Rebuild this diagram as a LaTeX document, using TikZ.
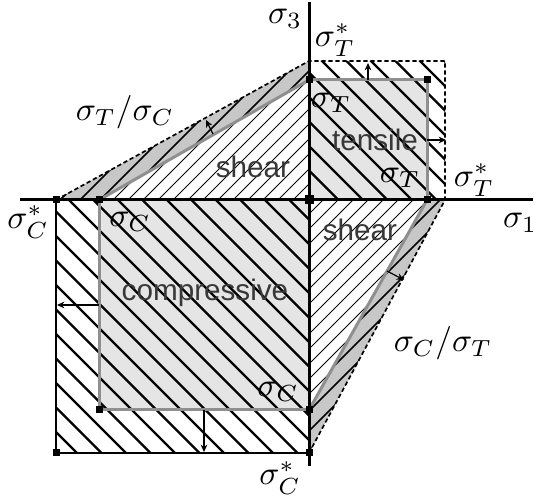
\documentclass[tikz,border=0pt]{standalone}
\usepackage{fontspec}
\newfontfamily\labfont{Liberation Sans}
\usetikzlibrary{arrows.meta}
\definecolor{lgray}{gray}{0.9}
\definecolor{bgray}{gray}{0.78}
\definecolor{ogray}{gray}{0.56}
\begin{document}
\begin{tikzpicture}[x=0.3pt,y=-0.3pt,
  hatchthick/.style={line width=0.7pt},
  hatchband/.style={line width=0.5pt},
  hatchthin/.style={line width=0.3pt},
  axisline/.style={line width=0.9pt},
  envl/.style={ogray,line width=0.9pt},
  dashenv/.style={line width=0.5pt,dash pattern=on 1.3pt off 0.8pt},
  outerline/.style={line width=0.45pt},
  arr/.style={line width=0.35pt,-{Stealth[length=2.2pt,width=2pt]}},
  sqmark/.style={fill=black,inner sep=0pt,minimum size=2.1pt},
  bigmark/.style={fill=black,inner sep=0pt,minimum size=2.7pt},
  mlab/.style={inner sep=0pt,font=\fontsize{10}{12}\selectfont},
  slab/.style={inner sep=0pt,text=black!78,font=\labfont\fontsize{8.9}{10}\selectfont}]
\useasboundingbox (0,0) rectangle (537,497);
% key points
\coordinate (O) at (309,200);
\coordinate (Tt) at (309,80);
\coordinate (Tc) at (427,80);
\coordinate (Tr) at (427,200);
\coordinate (Ts3) at (309,61);
\coordinate (Tsc) at (445,61);
\coordinate (Ts1) at (445,200);
\coordinate (Cl) at (99,200);
\coordinate (Cc) at (99,410);
\coordinate (Cb) at (309,410);
\coordinate (Csl) at (56,200);
\coordinate (Csc) at (56,453);
\coordinate (Csb) at (309,453);
\coordinate (Xl) at (20,200);
\coordinate (Xr) at (533,200);
\coordinate (Yt) at (309,2);
\coordinate (Yb) at (309,466);
% gray squares
\fill[lgray] (O) rectangle (Tc);
\fill[lgray] (Cl) rectangle (Cb);
% thick hatch (tensile / compressive)
\begin{scope}
  \clip (O) rectangle (Tsc) (Csl) rectangle (Csb);
  \foreach \k in {-25,...,30} \draw[hatchthick] ({-33+\k*24.5},0) -- ++(600,600);
\end{scope}
% thin hatch (shear)
\begin{scope}
  \clip (Cl) -- (O) -- (Tt) -- cycle (O) -- (Tr) -- (Cb) -- cycle;
  \foreach \k in {-5,...,75} \draw[hatchthin] ({403+\k*15-600},0) -- ++(-600,600);
\end{scope}
% bands
\fill[bgray] (Csl) -- (Ts3) -- (Tt) -- (Cl) -- cycle;
\fill[bgray] (Ts1) -- (Csb) -- (Cb) -- (Tr) -- cycle;
\begin{scope}
  \clip (Csl) -- (Ts3) -- (Tt) -- (Cl) -- cycle (Ts1) -- (Csb) -- (Cb) -- (Tr) -- cycle;
  \foreach \k in {0,...,60} \draw[hatchband] ({\k*20},0) -- ++(-600,600);
\end{scope}
% envelopes
\draw[envl] (Cl) -- (Tt);
\draw[envl] (Tr) -- (Cb);
\draw[envl] (Tt) -- (Tc) -- (Tr);
\draw[envl] (Cl) -- (Cc) -- (Cb);
\draw[dashenv] (Csl) -- (Ts3) -- (Tsc) -- (Ts1) -- (Csb);
\draw[outerline] (Csl) -- (Csc) -- (Csb);
% axes
\draw[axisline] (Xl) -- (Xr);
\draw[axisline] (Yt) -- (Yb);
% arrows
\coordinate (a1s) at (368,80);  \coordinate (a1e) at (368,63);
\coordinate (a2s) at (427,140); \coordinate (a2e) at (446,140);
\coordinate (a3s) at (99,305);  \coordinate (a3e) at (57,305);
\coordinate (a4s) at (204,410); \coordinate (a4e) at (204,452);
\coordinate (a5s) at (213,134); \coordinate (a5e) at (206,120);
\coordinate (a6s) at (387,271); \coordinate (a6e) at (404,280);
\draw[arr] (a1s) -- (a1e);
\draw[arr] (a2s) -- (a2e);
\draw[arr] (a3s) -- (a3e);
\draw[arr] (a4s) -- (a4e);
\draw[arr] (a5s) -- (a5e);
\draw[arr] (a6s) -- (a6e);
% markers
\node[bigmark] (mO) at (O) {};
\node[sqmark] (m1) at (Tt) {};
\node[sqmark] (m2) at (Tc) {};
\node[sqmark] (m3) at (Tr) {};
\node[sqmark] (m4) at (Cl) {};
\node[sqmark] (m5) at (Cc) {};
\node[sqmark] (m6) at (Cb) {};
\node[sqmark] (m7) at (Csl) {};
\node[sqmark] (m8) at (Csc) {};
\node[sqmark] (m9) at (Csb) {};
% labels
\node[mlab] (l3) at (285,19) {$\sigma_3$};
\node[mlab] (l1) at (520,223) {$\sigma_1$};
\node[mlab] (lts3) at (335,40) {$\sigma_T^*$};
\node[mlab] (lts1) at (474,180) {$\sigma_T^*$};
\node[mlab] (lt3) at (331,103) {$\sigma_T$};
\node[mlab] (lt1) at (400,178) {$\sigma_T$};
\node[mlab] (lcs1) at (28,222) {$\sigma_C^*$};
\node[mlab] (lcs3) at (280,478) {$\sigma_C^*$};
\node[mlab] (lc1) at (130,222) {$\sigma_C$};
\node[mlab] (lc3) at (278,392) {$\sigma_C$};
\node[mlab] (ltc) at (125,112) {$\sigma_T/\sigma_C$};
\node[mlab] (lct) at (443,343) {$\sigma_C/\sigma_T$};
\node[slab] (sh1) at (253,167) {shear};
\node[slab] (sh2) at (360,230) {shear};
\node[slab] (ten) at (375,140) {tensile};
\node[slab] (com) at (205,293) {compressive};
\end{tikzpicture}
\end{document}
